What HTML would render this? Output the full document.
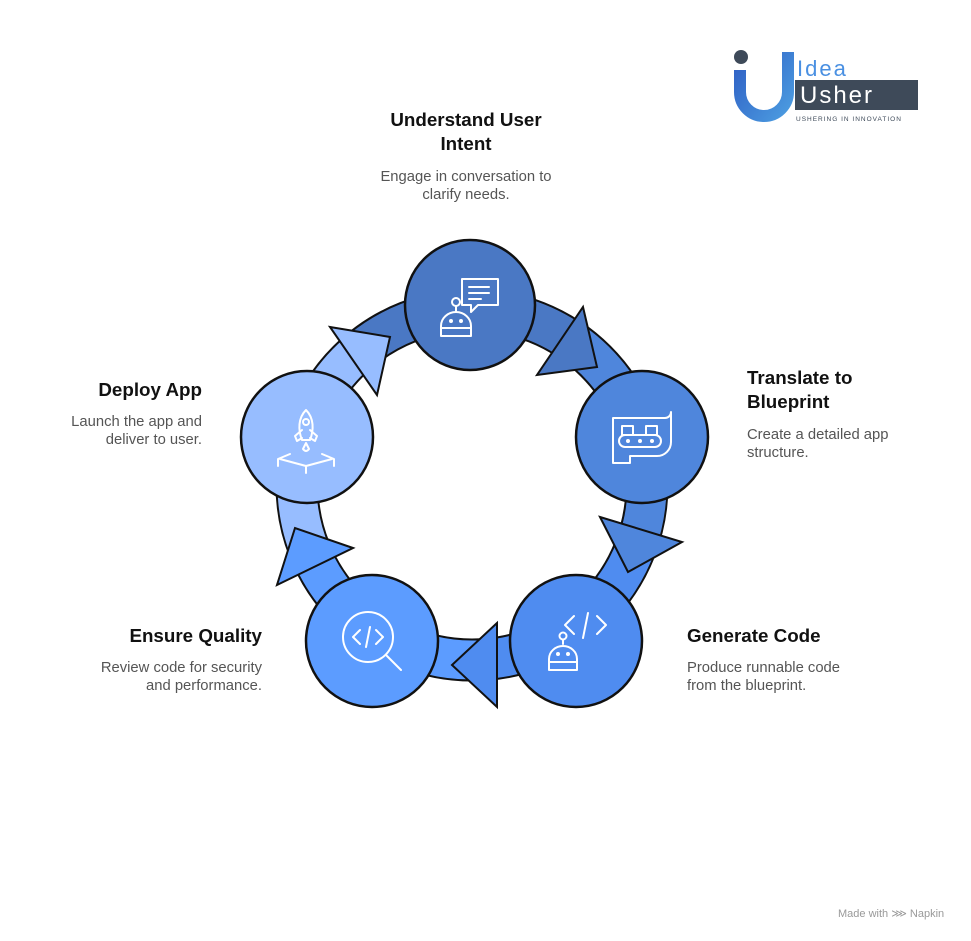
<!DOCTYPE html>
<html><head><meta charset="utf-8"><style>
body{margin:0;background:#fff;width:971px;height:941px;overflow:hidden;font-family:"Liberation Sans",Arial,sans-serif}
.t{position:absolute;font-weight:bold;font-size:18.8px;color:#111;line-height:24px}
.d{position:absolute;font-size:14.8px;color:#555;line-height:18px}
</style></head><body>
<svg width="971" height="941" style="position:absolute;left:0;top:0">
<circle cx="472" cy="485" r="175" fill="none" stroke="#111" stroke-width="43"/>
<g fill="none" stroke-width="39">
<path d="M361.9,349 A175,175 0 0 1 567.3,338.2" stroke="#4a78c4"/>
<path d="M567.3,338.2 A175,175 0 0 1 636.5,544.9" stroke="#4f86dc"/>
<path d="M636.5,544.9 A175,175 0 0 1 481.2,659.8" stroke="#4f8cf0"/>
<path d="M481.2,659.8 A175,175 0 0 1 310.9,553.4" stroke="#5c9cff"/>
<path d="M310.9,553.4 A175,175 0 0 1 361.9,349" stroke="#97bdff"/>
</g>
<g stroke="#111" stroke-width="2" stroke-linejoin="miter">
<polygon points="583,307 597,367 537,375" fill="#4a78c4"/>
<polygon points="600,517 682,542 628,572" fill="#4f86dc"/>
<polygon points="497,623 452,665 497,707" fill="#4f8cf0"/>
<polygon points="353,548 295,528 277,585" fill="#5c9cff"/>
<polygon points="330,327 390,337 377,395" fill="#97bdff"/>
</g>
<g stroke="#111" stroke-width="2.5">
<circle cx="470" cy="305" r="65" fill="#4a78c4"/>
<circle cx="642" cy="437" r="66" fill="#4f86dc"/>
<circle cx="576" cy="641" r="66" fill="#4f8cf0"/>
<circle cx="372" cy="641" r="66" fill="#5c9cff"/>
<circle cx="307" cy="437" r="66" fill="#97bdff"/>
</g>
<g fill="none" stroke="#fff" stroke-width="2" stroke-linecap="round" stroke-linejoin="round">
<path d="M462,279 h36 v26 h-20 l-7,7 v-7 h-9 z"/><path d="M469,287h20M469,293h20M469,299h12"/>
<circle cx="456" cy="302" r="4"/><path d="M456,306v5M441,336v-10a15,14 0 0 1 30,0v10z M441,328h30"/>
<circle cx="451" cy="321" r="1"/><circle cx="461" cy="321" r="1"/>
<path d="M613,418h52a6,6 0 0 0 6,-6v30a14,14 0 0 1 -14,14h-27v7h-17z M613,418v45"/>
<rect x="622" y="426" width="11" height="9"/><rect x="646" y="426" width="11" height="9"/>
<rect x="619" y="435" width="42" height="12" rx="6"/>
<circle cx="628" cy="441" r="1"/><circle cx="640" cy="441" r="1"/><circle cx="652" cy="441" r="1"/>
<path d="M574,616l-9,9 9,9M597,616l9,9-9,9M588,613l-5,25"/>
<circle cx="563" cy="636" r="3.5"/><path d="M563,640v4M549,670v-11a14,13 0 0 1 28,0v11z M549,662h28"/>
<circle cx="558" cy="654" r="1"/><circle cx="568" cy="654" r="1"/>
<circle cx="368" cy="637" r="25"/><path d="M386,655l15,15M360,630l-7,7 7,7M376,630l7,7-7,7M370,627l-4,20"/>
<path d="M306,410c-8,8 -8,20 -4,30h8c4,-10 4,-22 -4,-30z"/><circle cx="306" cy="422" r="3"/>
<path d="M302,430l-7,6 2,5 5,-3M310,430l7,6-2,5-5,-3M303,449q3,-6 3,-6q0,0 3,6q-3,4 -6,0z"/>
<path d="M278,466v-7l12,-5M334,466v-7l-12,-5M280,459l26,7 26,-7M306,466v7"/>
</g>
<defs><linearGradient id="g" x1="0" y1="0" x2="1" y2="1"><stop offset="0" stop-color="#2f5fc4"/><stop offset="1" stop-color="#4b9be0"/></linearGradient></defs>
<circle cx="741" cy="57" r="7" fill="#3e4a59"/>
<path d="M740,70v22a24,24 0 0 0 48,0v-40" fill="none" stroke="url(#g)" stroke-width="12"/>
<text x="797" y="76" font-family="Liberation Sans" font-size="22" fill="#4a90e2" letter-spacing="2">Idea</text>
<rect x="795" y="80" width="123" height="30" fill="#3e4a59"/>
<text x="800" y="103" font-family="Liberation Sans" font-size="24" fill="#fff" letter-spacing="2">Usher</text>
<text x="796" y="121" font-family="Liberation Sans" font-size="6.5" fill="#3e4a59" letter-spacing="1">USHERING IN INNOVATION</text>
<text x="838" y="917" font-family="Liberation Sans" font-size="11" fill="#999">Made with ⋙ Napkin</text>
</svg>
<div class="t" style="left:366px;top:108px;width:200px;text-align:center">Understand User<br>Intent</div>
<div class="d" style="left:346px;top:168px;width:240px;text-align:center">Engage in conversation to<br>clarify needs.</div>
<div class="t" style="left:747px;top:366px">Translate to<br>Blueprint</div>
<div class="d" style="left:747px;top:426px">Create a detailed app<br>structure.</div>
<div class="t" style="left:687px;top:624px">Generate Code</div>
<div class="d" style="left:687px;top:659px">Produce runnable code<br>from the blueprint.</div>
<div class="t" style="left:62px;top:624px;width:200px;text-align:right">Ensure Quality</div>
<div class="d" style="left:22px;top:659px;width:240px;text-align:right">Review code for security<br>and performance.</div>
<div class="t" style="left:2px;top:378px;width:200px;text-align:right">Deploy App</div>
<div class="d" style="left:2px;top:413px;width:200px;text-align:right">Launch the app and<br>deliver to user.</div>
</body></html>
